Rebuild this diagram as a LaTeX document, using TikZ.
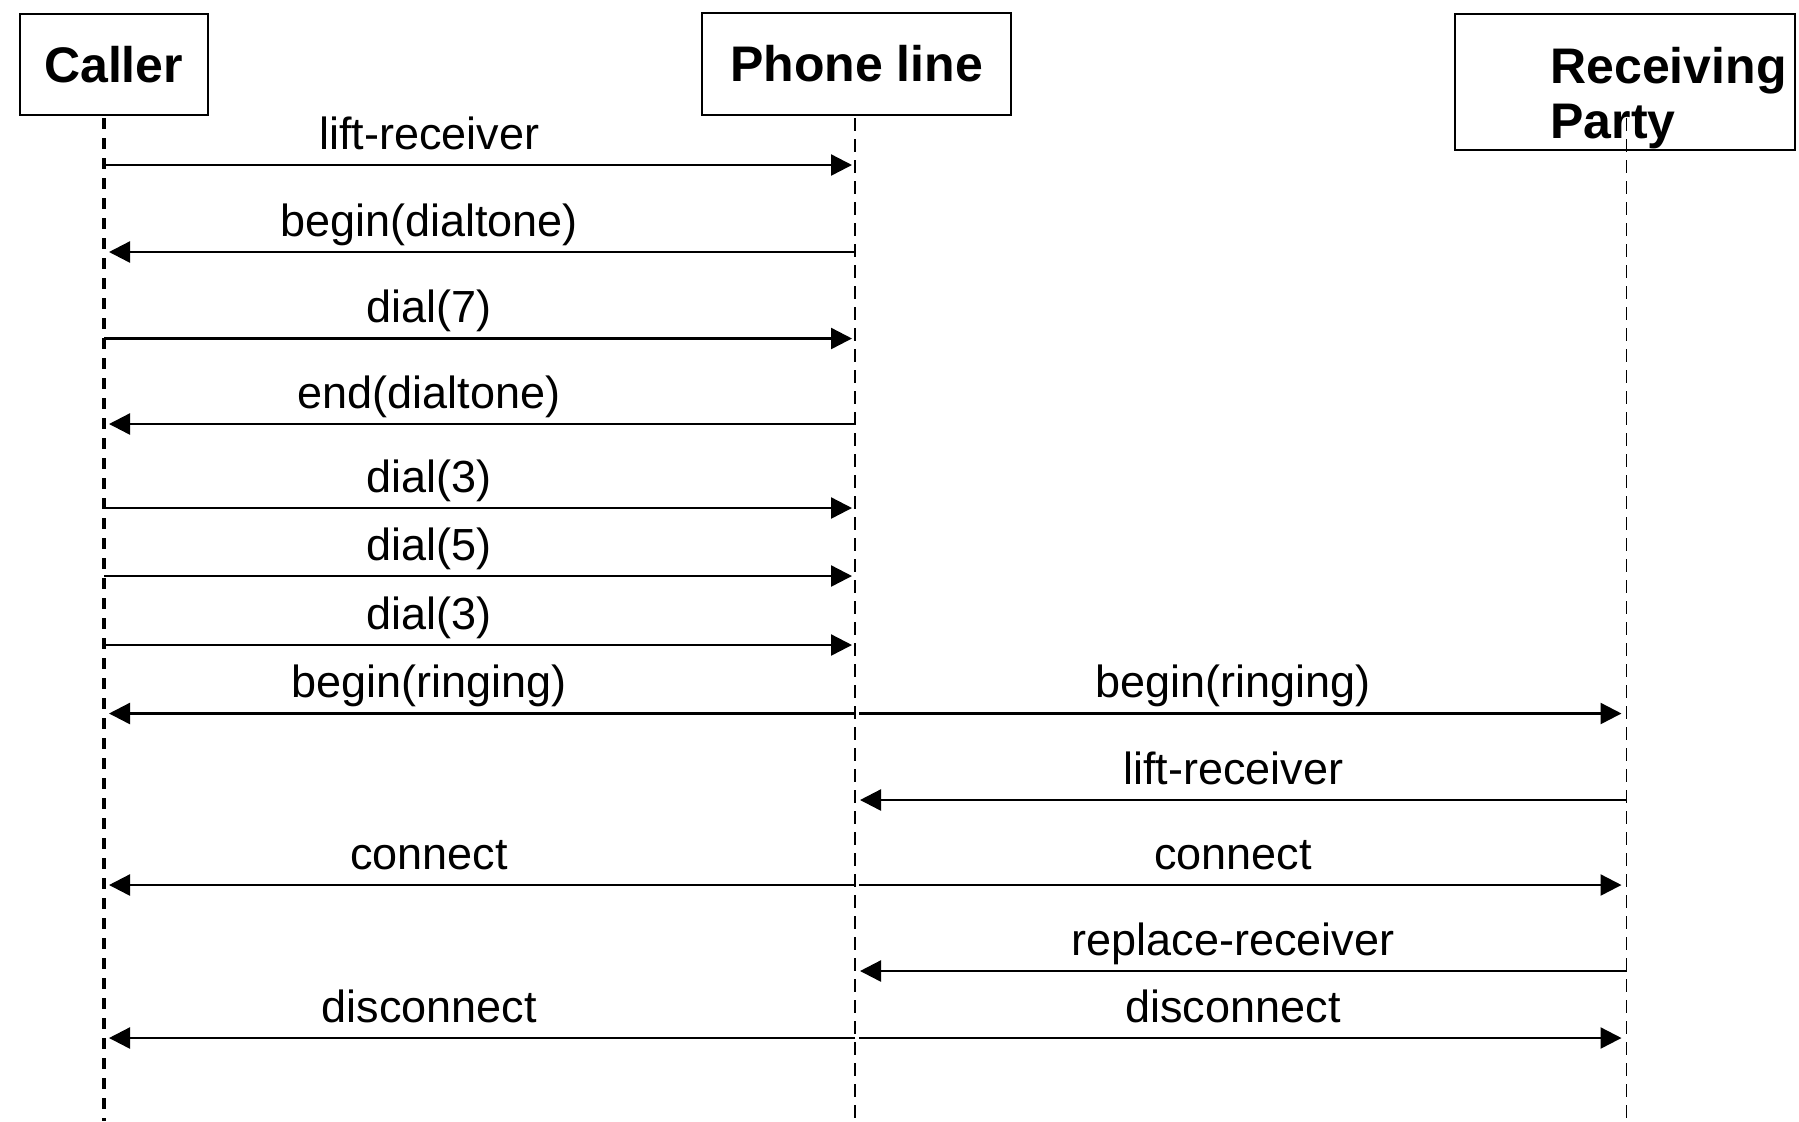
\documentclass[tikz,border=0pt]{standalone}
\usepackage{fontspec}
\setmainfont{Liberation Sans}
\usetikzlibrary{arrows.meta}

% one unit = one pixel of a 1799 x 1121 canvas, y grows downward
\tikzset{
  actorbox/.style={draw, line width=1pt, inner sep=0pt,
    font=\fontsize{25}{27.5}\selectfont\bfseries},
  lifeline/.style={line width=0.9pt, dash pattern=on 6.5pt off 4pt},
  callerline/.style={line width=2pt, dash pattern=on 5.5pt off 4.5pt},
  msg/.style={line width=1.2pt, -{Triangle[length=10.5pt,width=10.5pt]}},
  toright/.style={msg, shorten >=1.5pt},
  toleft/.style={msg, shorten >=2.5pt},
  torecv/.style={msg, shorten >=2.5pt, shorten <=2pt},
  msglabel/.style={font=\fontsize{22.5}{27}\selectfont, anchor=base,
    yshift=8pt, inner sep=0pt},
}

\begin{document}
\begin{tikzpicture}[x=0.5pt,y=-0.5pt]
  \useasboundingbox (0,0) rectangle (1799,1121);

  % participants
  \node[actorbox, minimum width=94pt, minimum height=50.5pt] (caller) at (113.6,64.2) {Caller};
  \node[actorbox, minimum width=154.5pt, minimum height=51pt] (phone) at (856.5,64) {Phone line};
  \node[actorbox, minimum width=170pt, minimum height=68pt] (recv) at (1625.3,82) {};
  \node[font=\fontsize{25}{27.5}\selectfont\bfseries, align=left, anchor=north west,
        inner sep=0pt] (recvtext) at (1550,47) {Receiving\\Party};

  % lifelines
  \coordinate (cTop) at (104,118);   \coordinate (cBot) at (104,1121);
  \coordinate (pTop) at (855,118);   \coordinate (pBot) at (855,1121);
  \coordinate (rTop) at (1626.5,118); \coordinate (rBot) at (1626.5,1121);
  \draw[callerline] (cTop) -- (cBot);
  \draw[lifeline] (pTop) -- (pBot);
  \draw[lifeline] (rTop) -- (rBot);

  % message rows
  \foreach \n/\y in {1/165, 2/252, 3/338.5, 4/424, 5/508, 6/576, 7/645,
                     8/713.5, 9/800, 10/885, 11/971, 12/1038} {
    \coordinate (c\n) at (104,\y);
    \coordinate (p\n) at (855,\y);
    \coordinate (r\n) at (1626.5,\y);
  }

  % caller <-> phone line
  \draw[toright] (c1) -- (p1) node[msglabel, pos=.433] (m1) {lift-receiver};
  \draw[toleft]  (p2) -- (c2) node[msglabel, pos=.567] (m2) {begin(dialtone)};
  \draw[toright] (c3) -- (p3) node[msglabel, pos=.433] (m3) {dial(7)};
  \draw[toleft]  (p4) -- (c4) node[msglabel, pos=.567] (m4) {end(dialtone)};
  \draw[toright] (c5) -- (p5) node[msglabel, pos=.433] (m5) {dial(3)};
  \draw[toright] (c6) -- (p6) node[msglabel, pos=.433] (m6) {dial(5)};
  \draw[toright] (c7) -- (p7) node[msglabel, pos=.433] (m7) {dial(3)};

  % ringing and answer
  \draw[toleft]  (p8) -- (c8) node[msglabel, pos=.567] (m8) {begin(ringing)};
  \draw[torecv]  (p8) -- (r8) node[msglabel, pos=.49] (m9) {begin(ringing)};
  \draw[toleft]  (r9) -- (p9) node[msglabel, pos=.51] (m10) {lift-receiver};

  % connection
  \draw[toleft]  (p10) -- (c10) node[msglabel, pos=.567] (m11) {connect};
  \draw[torecv]  (p10) -- (r10) node[msglabel, pos=.49] (m12) {connect};

  % hang-up
  \draw[toleft]  (r11) -- (p11) node[msglabel, pos=.51] (m13) {replace-receiver};
  \draw[toleft]  (p12) -- (c12) node[msglabel, pos=.567] (m14) {disconnect};
  \draw[torecv]  (p12) -- (r12) node[msglabel, pos=.49] (m15) {disconnect};
\end{tikzpicture}
\end{document}
